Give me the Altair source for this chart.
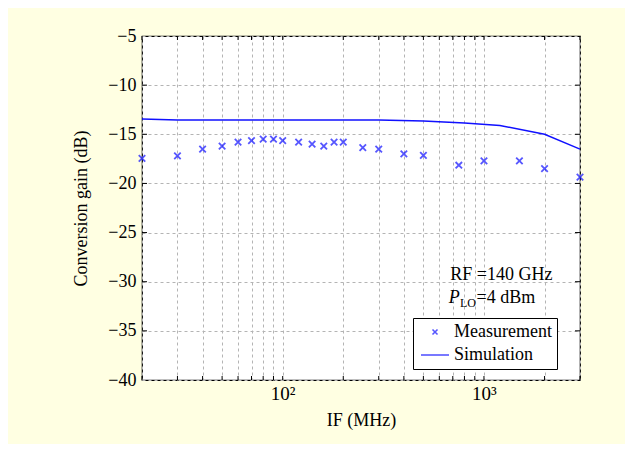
import altair as alt
import pandas as pd

# ---- data ----
meas_freq = [20, 30, 40, 50, 60, 70, 80, 90, 100, 120, 140, 160, 180, 200,
             250, 300, 400, 500, 750, 1000, 1500, 2000, 3000]
meas_gain = [-17.45, -17.2, -16.5, -16.2, -15.8, -15.65, -15.5, -15.5, -15.65,
             -15.8, -16.0, -16.2, -15.8, -15.8, -16.35, -16.5, -17.0, -17.15,
             -18.15, -17.7, -17.7, -18.5, -19.35]

sim_freq = [20, 30, 100, 300, 500, 800, 1200, 2000, 3000]
sim_gain = [-13.45, -13.55, -13.55, -13.55, -13.65, -13.85, -14.1, -15.0, -16.5]

series_names = ["Measurement", "Simulation"]

x_ticks = [20, 30, 40, 50, 60, 70, 80, 90, 100, 200, 300, 400, 500, 600, 700,
           800, 900, 1000, 2000, 3000]
x_major = [100, 1000]
y_ticks = [-40, -35, -30, -25, -20, -15, -10, -5]

ann1_text = ["RF =140 GHz"]
ann1_x = [680]
ann1_y = [-29.8]
ann2_text = ["P"]
ann2_x = [668]
ann2_y = [-32.15]
ann3_text = ["LO"]
ann3_x = [760]
ann3_y = [-32.6]
ann4_text = ["=4 dBm"]
ann4_x = [918]
ann4_y = [-32.15]

# ---- styling ----
FONT = "Liberation Serif"
BLUE = "#1010ff"
W, H = 438, 344
X_SHAPE = "M-0.36,-0.36L0.36,0.36M-0.36,0.36L0.36,-0.36"
LINE_SHAPE = "M-2,0L2,0"

meas_df = pd.DataFrame({"f": meas_freq, "g": meas_gain, "s": "Measurement"})
sim_df = pd.DataFrame({"f": sim_freq, "g": sim_gain})
xt_df = pd.DataFrame({"f": x_ticks})
yt_df = pd.DataFrame({"g": y_ticks[1:-1]})

xscale = alt.Scale(type="log", domain=[20, 3000], nice=False)
yscale = alt.Scale(domain=[-40, -5], nice=False)

xaxis = alt.Axis(
    values=x_ticks,
    labelExpr="datum.value == 100 ? '10²' : (datum.value == 1000 ? '10³' : '')",
    labelOverlap=False, ticks=False, domain=False,
    grid=True, gridDash=[3, 3], gridColor="#b4b4b4", gridWidth=1,
    labelFont=FONT, labelFontSize=19, labelColor="black", labelPadding=4,
    title="IF (MHz)", titleFont=FONT, titleFontSize=18, titleFontWeight="normal",
    titleColor="black", titlePadding=8,
)
yaxis = alt.Axis(
    values=y_ticks, ticks=False, domain=False,
    grid=True, gridDash=[3, 3], gridColor="#b4b4b4", gridWidth=1,
    labelFont=FONT, labelFontSize=18, labelColor="black", labelPadding=6,
    title="Conversion gain (dB)", titleFont=FONT, titleFontSize=18,
    titleFontWeight="normal", titleColor="black", titlePadding=17,
)

line = alt.Chart(sim_df).mark_line(color=BLUE, strokeWidth=1.4, clip=False).encode(
    x=alt.X("f:Q", scale=xscale, axis=xaxis),
    y=alt.Y("g:Q", scale=yscale, axis=yaxis),
)

legend = alt.Legend(
    orient="none", legendX=271, legendY=282, title=None,
    strokeColor="black", fillColor="white", padding=5,
    symbolOffset=8, labelOffset=10, labelFont=FONT,
    labelFontSize=18, labelColor="black", rowPadding=5,
    symbolSize=196, symbolStrokeWidth=1.6, cornerRadius=0)

points = alt.Chart(meas_df).mark_point(filled=False, size=324, strokeWidth=1.8).encode(
    x=alt.X("f:Q", scale=xscale),
    y=alt.Y("g:Q", scale=yscale),
    color=alt.Color("s:N", scale=alt.Scale(domain=series_names, range=[BLUE, BLUE]),
                    legend=legend),
    shape=alt.Shape("s:N", scale=alt.Scale(domain=series_names,
                                           range=[X_SHAPE, LINE_SHAPE]),
                    legend=legend),
)

xt_bottom = alt.Chart(xt_df).mark_rule(color="black", strokeWidth=1).encode(
    x=alt.X("f:Q", scale=xscale), y=alt.value(H), y2=alt.value(H - 4))
xt_top = alt.Chart(xt_df).mark_rule(color="black", strokeWidth=1).encode(
    x=alt.X("f:Q", scale=xscale), y=alt.value(0), y2=alt.value(4))
yt_left = alt.Chart(yt_df).mark_rule(color="black", strokeWidth=1).encode(
    y=alt.Y("g:Q", scale=yscale), x=alt.value(0), x2=alt.value(5))
yt_right = alt.Chart(yt_df).mark_rule(color="black", strokeWidth=1).encode(
    y=alt.Y("g:Q", scale=yscale), x=alt.value(W), x2=alt.value(W - 5))


def ann(texts, xs, ys, size, italic=False):
    df = pd.DataFrame({"t": texts, "f": xs, "g": ys})
    return alt.Chart(df).mark_text(
        align="left", baseline="alphabetic", font=FONT, fontSize=size,
        fontStyle="italic" if italic else "normal", color="black").encode(
        x=alt.X("f:Q", scale=xscale), y=alt.Y("g:Q", scale=yscale), text="t:N")


chart = alt.layer(
    line, xt_bottom, xt_top, yt_left, yt_right, points,
    ann(ann1_text, ann1_x, ann1_y, 18),
    ann(ann2_text, ann2_x, ann2_y, 18, italic=True),
    ann(ann3_text, ann3_x, ann3_y, 12),
    ann(ann4_text, ann4_x, ann4_y, 18),
).properties(
    width=W, height=H, background="#ffffe2",
    padding={"left": 134, "top": 28, "right": 45, "bottom": 64},
    autosize=alt.AutoSizeParams(type="none"),
).configure_view(
    stroke="black", strokeWidth=1.2, fill="white"
)

chart.save("out.html", embed_options={"renderer": "svg", "actions": False})
